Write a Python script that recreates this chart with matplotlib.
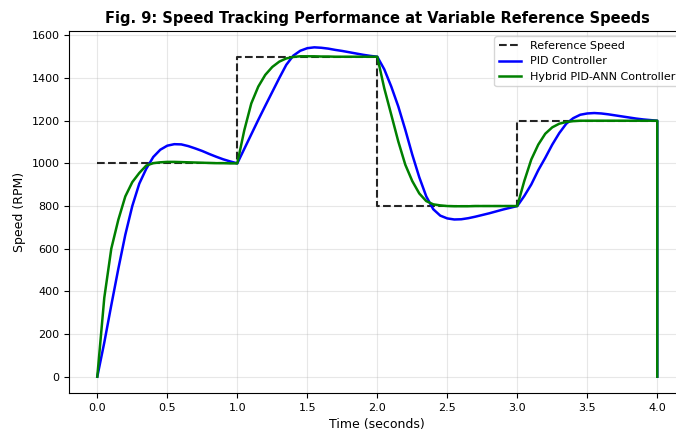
import matplotlib
matplotlib.use("Agg")
import matplotlib.pyplot as plt

# temps (s), pas de 0.05 s, dernier point = chute finale a 4.0 s
time_s = [0.00, 0.05, 0.10, 0.15, 0.20, 0.25, 0.30, 0.35, 0.40, 0.45,
          0.50, 0.55, 0.60, 0.65, 0.70, 0.75, 0.80, 0.85, 0.90, 0.95,
          1.00, 1.05, 1.10, 1.15, 1.20, 1.25, 1.30, 1.35, 1.40, 1.45,
          1.50, 1.55, 1.60, 1.65, 1.70, 1.75, 1.80, 1.85, 1.90, 1.95,
          2.00, 2.05, 2.10, 2.15, 2.20, 2.25, 2.30, 2.35, 2.40, 2.45,
          2.50, 2.55, 2.60, 2.65, 2.70, 2.75, 2.80, 2.85, 2.90, 2.95,
          3.00, 3.05, 3.10, 3.15, 3.20, 3.25, 3.30, 3.35, 3.40, 3.45,
          3.50, 3.55, 3.60, 3.65, 3.70, 3.75, 3.80, 3.85, 3.90, 3.95,
          4.00, 4.00]

# reponse PID
pid_speed = [0, 160, 335, 505, 665, 800, 905, 975, 1030, 1064,
             1083, 1090, 1089, 1081, 1070, 1058, 1044, 1031, 1019, 1009,
             1000, 1068, 1136, 1204, 1270, 1335, 1400, 1462, 1505, 1528,
             1540, 1544, 1542, 1538, 1532, 1527, 1521, 1515, 1509, 1504,
             1500, 1441, 1360, 1267, 1158, 1041, 935, 845, 785, 755,
             742, 737, 738, 743, 750, 758, 766, 775, 784, 792,
             800, 847, 901, 968, 1026, 1088, 1142, 1186, 1212, 1228,
             1234, 1236, 1234, 1230, 1225, 1220, 1215, 1210, 1206, 1203,
             1200, 0]

# reponse hybride PID-ANN
hybrid_speed = [0, 370, 600, 735, 845, 912, 955, 990, 1001, 1005,
                1007, 1007, 1006, 1005, 1004, 1003, 1002, 1001, 1001, 1000,
                1000, 1155, 1281, 1360, 1415, 1452, 1477, 1492, 1499, 1502,
                1502, 1502, 1501, 1501, 1500, 1500, 1500, 1500, 1500, 1500,
                1500, 1352, 1228, 1103, 994, 917, 859, 823, 808, 803,
                800, 799, 799, 799, 800, 800, 800, 800, 800, 800,
                800, 917, 1018, 1088, 1139, 1169, 1186, 1194, 1198, 1200,
                1200, 1200, 1200, 1200, 1200, 1200, 1200, 1200, 1200, 1200,
                1200, 0]

# consigne en escalier
ref_time = [0, 1, 2, 3, 4]
ref_speed = [1000, 1500, 800, 1200, 1200]

fig = plt.figure(figsize=(6.76, 4.30), dpi=100)
ax = fig.add_axes([0.1025, 0.0858, 0.9112, 0.8423])

ax.step(ref_time, ref_speed, where='post', color='k', linestyle='--',
        linewidth=1.5, alpha=0.85, label='Reference Speed')
ax.plot(time_s, pid_speed, color='blue', linewidth=1.8, label='PID Controller')
ax.plot(time_s, hybrid_speed, color='green', linewidth=1.8,
        label='Hybrid PID-ANN Controller')

ax.set_xlim(-0.2, 4.2)
ax.set_ylim(-77, 1621)
ax.set_xticks([0.0, 0.5, 1.0, 1.5, 2.0, 2.5, 3.0, 3.5, 4.0])
ax.tick_params(labelsize=8)
ax.grid(True, alpha=0.3)

ax.set_xlabel('Time (seconds)', fontsize=9)
ax.set_ylabel('Speed (RPM)', fontsize=9)
ax.set_title('Fig. 9: Speed Tracking Performance at Variable Reference Speeds',
             fontsize=10.5, fontweight='bold')
ax.legend(loc='upper right', fontsize=8)

fig.savefig('out.png', dpi=100)
